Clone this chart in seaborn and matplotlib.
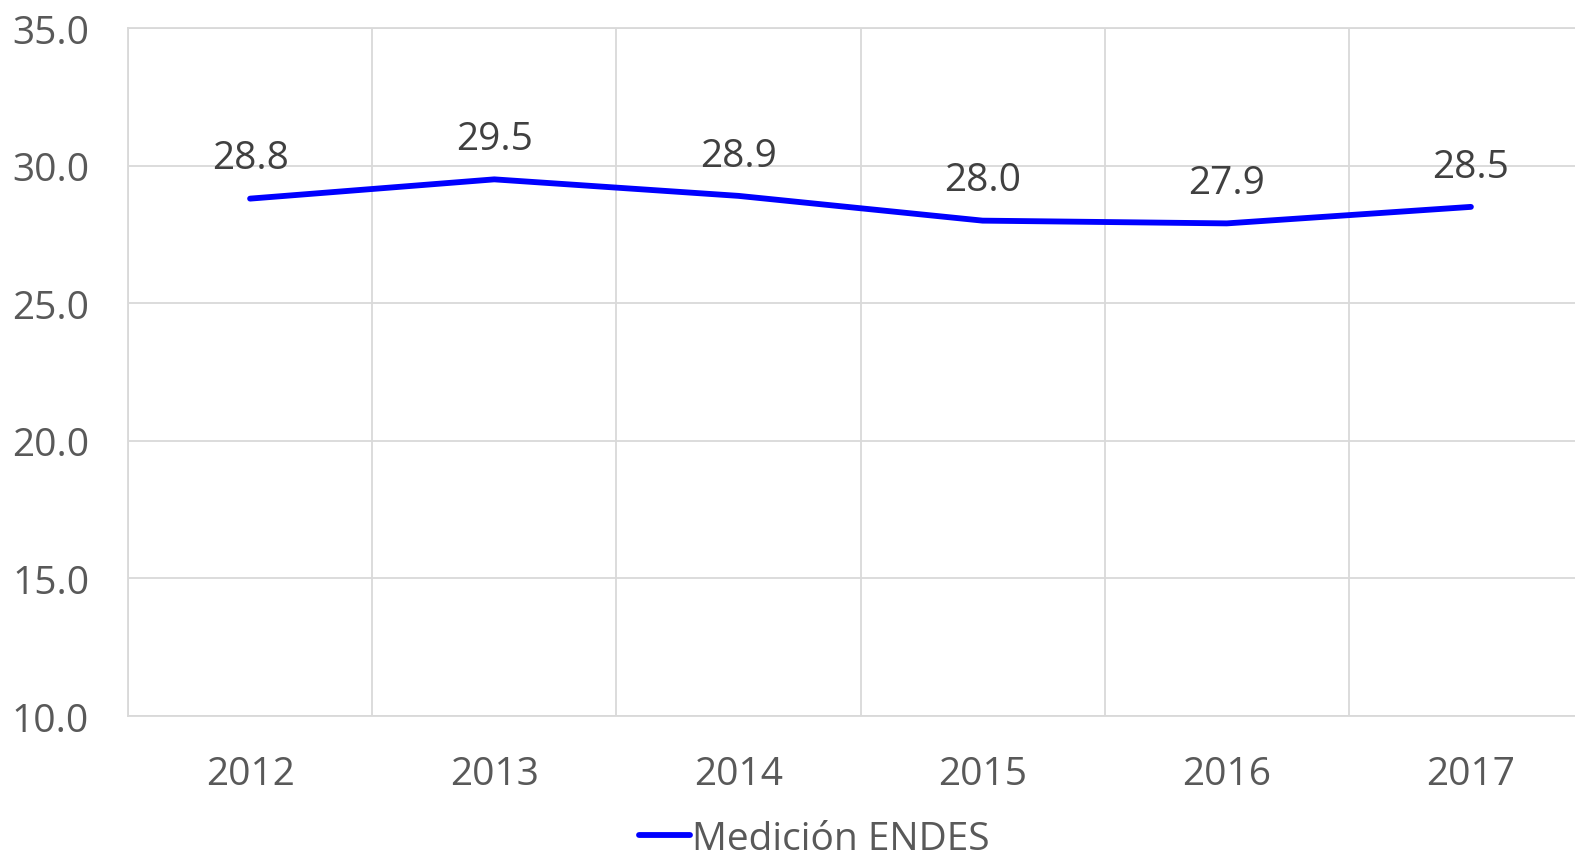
import seaborn as sns
import matplotlib.pyplot as plt
import pandas as pd

sns.set_style("white")
plt.rcParams['font.family'] = ['Open Sans', 'DejaVu Sans']

years = ["2012", "2013", "2014", "2015", "2016", "2017"]
values = [28.8, 29.5, 28.9, 28.0, 27.9, 28.5]
series_name = "Medición ENDES"

df = pd.DataFrame({"Año": years, "Valor": values})

fig = plt.figure(figsize=(15.75, 8.62), dpi=100)
ax = fig.add_axes([128 / 1575, 1 - 717 / 862, 1465 / 1575, 688 / 862])

grid_col = "#d9d9d9"
sns.lineplot(data=df, x="Año", y="Valor", ax=ax, color="#0000ff",
             linewidth=4.2, solid_capstyle="round", label=series_name,
             legend=False)

ax.set_xlim(-0.5, 5.5)
ax.set_ylim(10, 35)
ax.set_yticks([10, 15, 20, 25, 30, 35])
ax.set_yticklabels([f"{v:.1f}" for v in [10, 15, 20, 25, 30, 35]])
ax.set_xticks(range(len(years)))
ax.set_xticklabels(years)
ax.set_xticks([i - 0.5 for i in range(len(years) + 1)], minor=True)

ax.grid(False)
ax.yaxis.grid(True, color=grid_col, linewidth=1.3)
ax.xaxis.grid(True, which="minor", color=grid_col, linewidth=1.3)
ax.set_axisbelow(True)
for s in ax.spines.values():
    s.set_color(grid_col)
    s.set_linewidth(1.3)
ax.spines["right"].set_visible(False)

ax.tick_params(axis="both", which="both", length=0, labelsize=28,
               labelcolor="#595959")
ax.tick_params(axis="y", pad=28)
ax.tick_params(axis="x", pad=28)
ax.set_xlabel("")
ax.set_ylabel("")

for i, v in enumerate(values):
    ax.annotate(f"{v:.1f}", (i, v), xytext=(0, 29), textcoords="offset points",
                ha="center", va="center", fontsize=28, color="#404040")

handles, labels = ax.get_legend_handles_labels()
fig.legend(handles, labels, loc="center", bbox_to_anchor=(0.517, 0.026),
           frameon=False, fontsize=28, labelcolor="#595959",
           handlelength=1.3, handletextpad=0.05, borderpad=0.1)

plt.savefig("out.png", dpi=100)
plt.close()
